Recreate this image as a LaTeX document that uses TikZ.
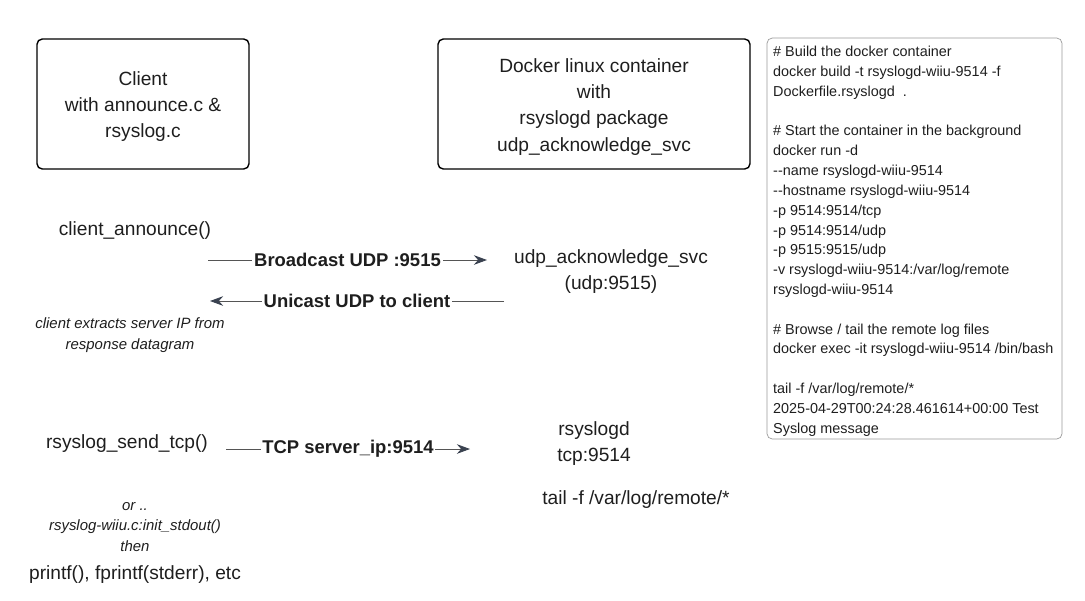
\documentclass[tikz,border=0pt]{standalone}
\usepackage{fontspec}
\setmainfont{Liberation Sans}
\usepackage{xcolor}
\usepackage{tikz}
\usetikzlibrary{arrows.meta, positioning}
\definecolor{inkgray}{HTML}{1E1E1E}
\definecolor{linegray}{HTML}{555555}
\definecolor{tipgray}{HTML}{3A4250}
\definecolor{framegray}{HTML}{9A9A9A}

\begin{document}
\begin{tikzpicture}[x=0.02cm, y=-0.02cm,
        component/.style={
                draw=black,
                rounded corners=3pt,
                line width=0.8pt,
        },
        label/.style={text=inkgray, font=\fontsize{10.9}{14.9}\selectfont, align=center, yshift=-1.6pt},
        note/.style={text=inkgray, font=\fontsize{8.5}{11.6}\selectfont\itshape, align=center},
        flow/.style={draw=linegray, line width=0.5pt, -{Stealth[length=7.5pt, width=5.5pt, color=tipgray]}},
        flowtext/.style={fill=white, inner sep=1pt, text=inkgray, font=\fontsize{10.5}{12}\selectfont\bfseries},
        cmds/.style={text=inkgray, font=\fontsize{8.2}{11.28}\selectfont, align=left, anchor=north west}
        ]
            \useasboundingbox (0, 0) rectangle (1085, 600);
            % boxes
            \draw[component] (37, 39) rectangle (249, 169) node[pos=0.5, label] (client) {Client\\with announce.c \&\\rsyslog.c};
            \draw[component] (438, 39) rectangle (750, 169) node[pos=0.5, label] (docker) {Docker linux container\\with\\rsyslogd package\\udp\_acknowledge\_svc};
            \draw[draw=framegray, line width=0.4pt, rounded corners=3pt] (767, 38) rectangle (1062, 439);
            \node[cmds] (commands) at (767, 40) {\# Build the docker container\\
docker build -t rsyslogd-wiiu-9514 -f\\
Dockerfile.rsyslogd~~.\\
\mbox{}\\
\# Start the container in the background\\
docker run -d\\
-{}-name rsyslogd-wiiu-9514\\
-{}-hostname rsyslogd-wiiu-9514\\
-p 9514:9514/tcp\\
-p 9514:9514/udp\\
-p 9515:9515/udp\\
-v rsyslogd-wiiu-9514:/var/log/remote\\
rsyslogd-wiiu-9514\\
\mbox{}\\
\# Browse / tail the remote log files\\
docker exec -it rsyslogd-wiiu-9514 /bin/bash\\
\mbox{}\\
tail -f /var/log/remote/*\\
2025-04-29T00:24:28.461614+00:00 Test\\
Syslog message};

            % client side
            \node[label] (announce) at (135, 228) {client\_announce()};
            \node[note] (extract) at (130, 335) {client extracts server IP from\\response datagram};
            \node[label] (sendtcp) at (127, 441) {rsyslog\_send\_tcp()};
            \node[note] (stdout) at (135, 527) {or ..\\rsyslog-wiiu.c:init\_stdout()\\then};
            \node[label] (printf) at (135, 572) {printf(), fprintf(stderr), etc};

            % server side
            \node[label] (acksvc) at (611, 269) {udp\_acknowledge\_svc\\(udp:9515)};
            \node[label] (rsyslogd) at (594, 441) {rsyslogd\\tcp:9514};
            \node[label] (tail) at (636, 497) {tail -f /var/log/remote/*};

            % messages
            \coordinate (bcast-a) at (208, 260);
            \coordinate (bcast-b) at (487, 260);
            \coordinate (ucast-a) at (504, 301);
            \coordinate (ucast-b) at (210, 301);
            \coordinate (tcp-a) at (226, 449);
            \coordinate (tcp-b) at (470, 449);
            \draw[flow] (bcast-a) -- (bcast-b) node[midway, flowtext] (bcastlbl) {Broadcast UDP :9515};
            \draw[flow] (ucast-a) -- (ucast-b) node[midway, flowtext] (ucastlbl) {Unicast UDP to client};
            \draw[flow] (tcp-a) -- (tcp-b) node[midway, flowtext] (tcplbl) {TCP server\_ip:9514};
        \end{tikzpicture}
\end{document}
